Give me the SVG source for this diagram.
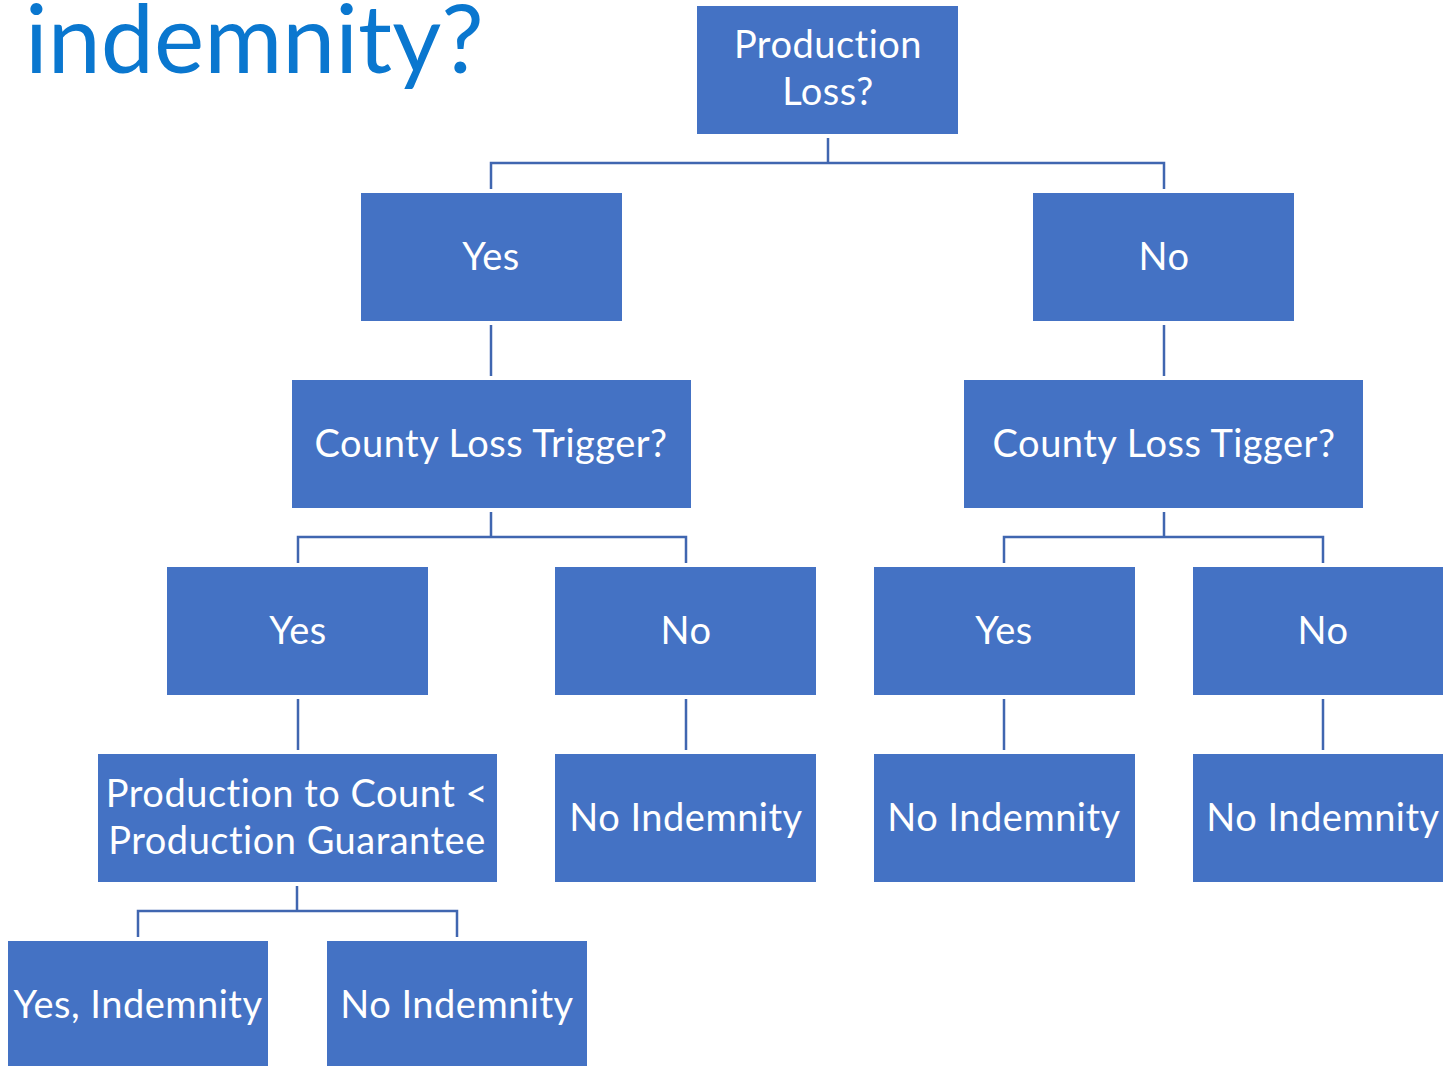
<svg xmlns="http://www.w3.org/2000/svg" width="1443" height="1066" viewBox="0 0 1443 1066">
<style>
.n{fill:#4472C4}
.t{fill:#fff;font-family:Lato,"Open Sans",sans-serif;font-size:38px;letter-spacing:0.5px;text-anchor:middle}
.c{stroke:#4066B0;stroke-width:2.5;fill:none}
.title{fill:#0A77CF;font-family:Lato,"Open Sans",sans-serif;font-size:95px}
</style>
<rect width="1443" height="1066" fill="#fff"/>
<text class="title" x="25" y="73">indemnity?</text>
<g id="connectors">
<path class="c" d="M828 138V163M491 189V163H1164V189"/>
<path class="c" d="M491 325V376"/>
<path class="c" d="M1164 325V376"/>
<path class="c" d="M491 512V537M298 563V537H686V563"/>
<path class="c" d="M1164 512V537M1004 563V537H1323V563"/>
<path class="c" d="M298 699V750M686 699V750M1004 699V750M1323 699V750"/>
<path class="c" d="M297 886V911M138 937V911H457V937"/>
</g>
<g id="n1"><rect class="n" x="697" y="6" width="261" height="128"/><text class="t" x="828" y="58">Production</text><text class="t" x="828" y="105">Loss?</text></g>
<g id="n2"><rect class="n" x="361" y="193" width="261" height="128"/><text class="t" x="491" y="270">Yes</text></g>
<g id="n3"><rect class="n" x="1033" y="193" width="261" height="128"/><text class="t" x="1164" y="270">No</text></g>
<g id="n4"><rect class="n" x="292" y="380" width="399" height="128"/><text class="t" x="491" y="457">County Loss Trigger?</text></g>
<g id="n5"><rect class="n" x="964" y="380" width="399" height="128"/><text class="t" x="1164" y="457">County Loss Tigger?</text></g>
<g id="n6"><rect class="n" x="167" y="567" width="261" height="128"/><text class="t" x="298" y="644">Yes</text></g>
<g id="n7"><rect class="n" x="555" y="567" width="261" height="128"/><text class="t" x="686" y="644">No</text></g>
<g id="n8"><rect class="n" x="874" y="567" width="261" height="128"/><text class="t" x="1004" y="644">Yes</text></g>
<g id="n9"><rect class="n" x="1193" y="567" width="261" height="128"/><text class="t" x="1323" y="644">No</text></g>
<g id="n10"><rect class="n" x="98" y="754" width="399" height="128"/><text class="t" x="297" y="807">Production to Count &lt;</text><text class="t" x="297" y="854">Production Guarantee</text></g>
<g id="n11"><rect class="n" x="555" y="754" width="261" height="128"/><text class="t" x="686" y="831">No Indemnity</text></g>
<g id="n12"><rect class="n" x="874" y="754" width="261" height="128"/><text class="t" x="1004" y="831">No Indemnity</text></g>
<g id="n13"><rect class="n" x="1193" y="754" width="261" height="128"/><text class="t" x="1323" y="831">No Indemnity</text></g>
<g id="n14"><rect class="n" x="8" y="941" width="260" height="128"/><text class="t" x="138" y="1018">Yes, Indemnity</text></g>
<g id="n15"><rect class="n" x="327" y="941" width="260" height="128"/><text class="t" x="457" y="1018">No Indemnity</text></g>
</svg>
